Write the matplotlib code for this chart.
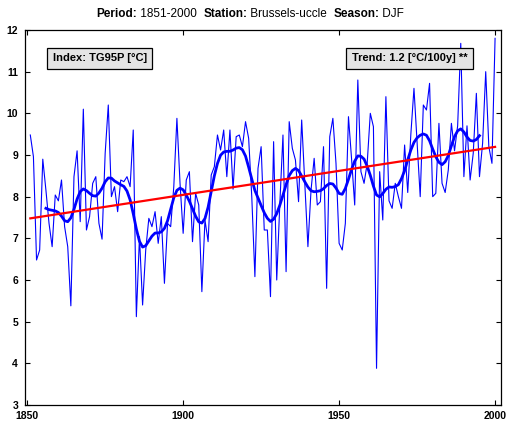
import numpy as np
import matplotlib
matplotlib.use('Agg')
import matplotlib.pyplot as plt

plt.rcParams['font.family'] = ['Liberation Sans', 'DejaVu Sans']

years = np.arange(1851, 2001)
tg95p = [
    9.48, 8.96, 6.48, 6.72, 8.90, 8.16, 7.36, 6.80, 8.04, 7.90,   # 1851-1860
    8.40, 7.28, 6.80, 5.38, 8.48, 9.10, 7.40, 10.10, 7.20, 7.52,  # 1861-1870
    8.32, 8.48, 7.36, 6.98, 9.04, 10.20, 8.00, 8.24, 7.64, 8.40,  # 1871-1880
    8.36, 8.48, 8.24, 9.60, 5.12, 7.04, 5.40, 6.72, 7.48, 7.28,   # 1881-1890
    7.64, 6.88, 7.52, 5.92, 7.36, 7.28, 8.24, 9.88, 8.32, 7.12,   # 1891-1900
    8.40, 8.60, 6.92, 8.08, 7.80, 5.72, 7.44, 6.92, 8.52, 8.72,   # 1901-1910
    9.48, 9.12, 9.60, 8.48, 9.60, 8.18, 9.44, 9.48, 9.20, 9.80,   # 1911-1920
    9.40, 8.00, 6.08, 8.68, 9.20, 7.20, 7.20, 5.60, 9.32, 6.00,   # 1921-1930
    7.84, 9.48, 6.20, 9.80, 9.16, 8.88, 7.88, 9.84, 8.32, 6.80,   # 1931-1940
    8.16, 8.92, 7.80, 7.88, 9.20, 5.80, 9.44, 9.88, 8.80, 6.88,   # 1941-1950
    6.72, 7.36, 9.92, 8.90, 7.80, 10.80, 8.60, 8.32, 8.80, 10.00, # 1951-1960
    9.68, 3.88, 8.60, 7.44, 10.40, 7.90, 7.72, 8.32, 8.00, 7.72,  # 1961-1970
    9.24, 8.10, 9.50, 10.60, 9.30, 8.00, 10.20, 10.08, 10.72, 8.00, # 1971-1980
    8.08, 9.76, 8.32, 8.10, 8.64, 9.76, 9.10, 9.70, 11.68, 8.48,  # 1981-1990
    9.70, 8.40, 9.04, 10.48, 8.48, 9.28, 11.00, 9.20, 8.80, 11.80, # 1991-2000
]
tg95p = np.array(tg95p)

# 11-year gaussian smoothing, only where the window is full
w = np.exp(-0.5 * (np.arange(-5, 6) / 2.2) ** 2)
w = w / w.sum()
smooth = np.convolve(tg95p, w, mode='valid')
smooth_years = years[5:-5]

# linear trend
coef = np.polyfit(years, tg95p, 1)
trend = np.polyval(coef, years)

fig = plt.figure(figsize=(5.07, 4.25), dpi=100)
ax = fig.add_axes([25 / 507, 20 / 425, 476 / 507, 375 / 425])

ax.plot(years, tg95p, color='#0000ff', lw=0.8)
ax.plot(smooth_years, smooth, color='#0000ff', lw=2.0)
ax.plot(years, trend, color='#ff0000', lw=1.6)

ax.set_xlim(1849.3, 2001.9)
ax.set_ylim(3, 12)
ax.set_xticks([1850, 1900, 1950, 2000])
ax.set_yticks(range(3, 13))
ax.tick_params(direction='in', top=True, right=True, length=3.5, width=0.8,
               labelsize=7.5)
ax.tick_params(axis='x', pad=4.5)
ax.tick_params(axis='y', pad=5)
for lab in ax.get_xticklabels() + ax.get_yticklabels():
    lab.set_fontweight('bold')
for s in ax.spines.values():
    s.set_linewidth(0.9)

box = dict(boxstyle='square,pad=0.5', fc='#e4e4e4', ec='black', lw=0.9)
ax.text(0.058, 0.925, 'Index: TG95P [°C]', transform=ax.transAxes,
        fontsize=8, fontweight='bold', va='center', ha='left', bbox=box)
ax.text(0.930, 0.925, 'Trend: 1.2 [°C/100y] **', transform=ax.transAxes,
        fontsize=8, fontweight='bold', va='center', ha='right', bbox=box)

# title built from bold and normal pieces
pieces = [('Period:', 'bold'), (' 1851-2000  ', 'normal'),
          ('Station:', 'bold'), (' Brussels-uccle  ', 'normal'),
          ('Season:', 'bold'), (' DJF', 'normal')]
prev = fig.text(96 / 507, 1 - 20 / 425, pieces[0][0], fontsize=8.5,
                fontweight=pieces[0][1], va='bottom', ha='left')
for txt, wt in pieces[1:]:
    prev = ax.annotate(txt, xy=(1, 0), xycoords=prev, fontsize=8.5,
                       fontweight=wt, va='bottom', ha='left')

fig.savefig('out.png', dpi=100)
